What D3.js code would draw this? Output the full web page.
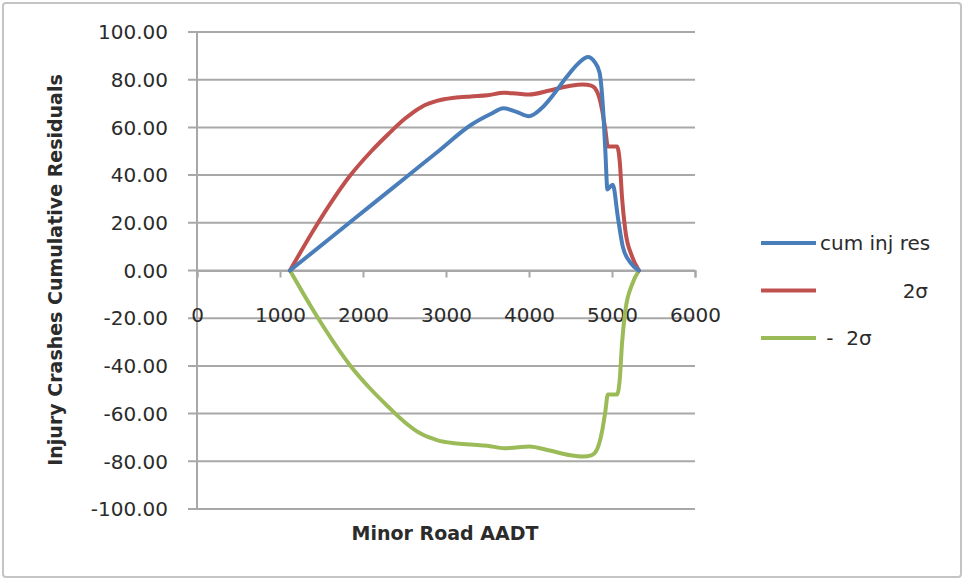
<!DOCTYPE html>
<html>
<head>
<meta charset="utf-8">
<script src="https://d3js.org/d3.v7.min.js"></script>
<style>
    body { margin: 0; background: #fff; }
    text { font-family: "DejaVu Sans", sans-serif; fill: #2b2b2b; }
</style>
</head>
<body>
<div id="viz"></div>
<script>
// series (x = minor road AADT, y = cumulative residual)
let cumX = [1120, 1600, 2100, 2500, 2900, 3300, 3550, 3690, 3850, 4000, 4150, 4300, 4450, 4600, 4710, 4790, 4850, 4890, 4920, 4945, 4975, 5010, 5070, 5130, 5220, 5325];
let cumY = [0, 13.4, 27.4, 38.6, 49.8, 61, 65.8, 68, 66.5, 64.7, 68, 74, 81, 87, 89.5, 87.5, 83, 69, 50, 34, 35, 36, 22.5, 10, 3.4, 0];

let upX = [1120, 1450, 1850, 2100, 2300, 2500, 2700, 2900, 3100, 3300, 3500, 3700, 3850, 4000, 4250, 4500, 4650, 4750, 4820, 4880, 4920, 4950, 5060, 5095, 5120, 5160, 5240, 5325];
let upY = [0, 19.5, 40, 50, 57, 63.5, 68.5, 71.2, 72.4, 73, 73.5, 74.5, 74.2, 73.8, 75.5, 77.5, 78, 77.5, 75, 67.5, 59, 52, 52, 45, 31, 17, 6, 0];

let lowX = [1120, 1450, 1850, 2100, 2300, 2500, 2700, 2900, 3100, 3300, 3500, 3700, 3850, 4000, 4250, 4500, 4650, 4750, 4820, 4880, 4920, 4950, 5060, 5095, 5120, 5160, 5240, 5325];
let lowY = [0, -19.5, -40, -50, -57, -63.5, -68.5, -71.2, -72.4, -73, -73.5, -74.5, -74.2, -73.8, -75.5, -77.5, -78, -77.5, -75, -67.5, -59, -52, -52, -45, -31, -17, -6, 0];

let seriesNames = ["cum inj res", "             2σ", " -  2σ"];
let seriesColors = ["#4a7ebb", "#c0504d", "#9bbb59"];

let xTicks = [0, 1000, 2000, 3000, 4000, 5000, 6000];
let yTicks = [-100, -80, -60, -40, -20, 0, 20, 40, 60, 80, 100];

let width = 965, height = 582;

let svg = d3.select("#viz")
    .append("svg")
    .attr("width", width)
    .attr("height", height);

// outer frame
svg.append("rect")
    .attr("x", 3).attr("y", 3)
    .attr("width", 958).attr("height", 574)
    .attr("rx", 3)
    .attr("fill", "#fff")
    .attr("stroke", "#c4c4c4")
    .attr("stroke-width", 2);

let x = d3.scaleLinear().domain([0, 6000]).range([197, 695]);
let y = d3.scaleLinear().domain([-100, 100]).range([509, 32]);

let gridColor = "#a8a8a8";

// horizontal gridlines (with the little tick sticking out left)
svg.selectAll(".grid")
    .data(yTicks)
    .enter()
    .append("line")
    .attr("x1", 188)
    .attr("x2", x(6000))
    .attr("y1", d => y(d))
    .attr("y2", d => y(d))
    .attr("stroke", gridColor)
    .attr("stroke-width", 2);

// y axis line
svg.append("line")
    .attr("x1", x(0)).attr("x2", x(0))
    .attr("y1", y(100)).attr("y2", y(-100))
    .attr("stroke", gridColor)
    .attr("stroke-width", 2);

// x axis sits on zero, ticks hang down
let xAxis = d3.axisBottom(x)
    .tickValues(xTicks)
    .tickSize(7)
    .tickFormat(d => d);

let gx = svg.append("g")
    .attr("transform", "translate(0," + y(0) + ")")
    .call(xAxis);
gx.select(".domain").attr("stroke", gridColor).attr("stroke-width", 2);
gx.selectAll(".tick line").attr("stroke", gridColor).attr("stroke-width", 2);
gx.selectAll(".tick text")
    .attr("y", 51)
    .attr("dy", "0")
    .style("font-size", "20px")
    .style("font-family", "DejaVu Sans, sans-serif")
    .attr("fill", "#2b2b2b");

// y tick labels (plain hyphen minus like excel)
svg.selectAll(".ylab")
    .data(yTicks)
    .enter()
    .append("text")
    .attr("x", 168)
    .attr("y", d => y(d))
    .attr("dy", "0.36em")
    .attr("text-anchor", "end")
    .style("font-size", "20px")
    .text(d => d.toFixed(2));

// the three curves
let line = d3.line()
    .x(d => x(d[0]))
    .y(d => y(d[1]))
    .curve(d3.curveMonotoneX);

let series = [
    d3.zip(cumX, cumY),
    d3.zip(upX, upY),
    d3.zip(lowX, lowY)
];

// draw red/green first, blue on top like excel
[2, 1, 0].forEach(i => {
    svg.append("path")
        .datum(series[i])
        .attr("d", line)
        .attr("fill", "none")
        .attr("stroke", seriesColors[i])
        .attr("stroke-width", 4)
        .attr("stroke-linejoin", "round")
        .attr("stroke-linecap", "round");
});

// axis titles
svg.append("text")
    .attr("transform", "translate(55,270) rotate(-90)")
    .attr("dy", "0.36em")
    .attr("text-anchor", "middle")
    .style("font-size", "19px")
    .style("font-weight", "bold")
    .text("Injury Crashes Cumulative Residuals");

svg.append("text")
    .attr("x", 445)
    .attr("y", 533)
    .attr("dy", "0.36em")
    .attr("text-anchor", "middle")
    .style("font-size", "19px")
    .style("font-weight", "bold")
    .text("Minor Road AADT");

// legend
let legend = svg.selectAll(".legend")
    .data(seriesNames)
    .enter()
    .append("g")
    .attr("transform", (d, i) => "translate(761," + (243 + i * 47.5) + ")");

legend.append("line")
    .attr("x1", 0).attr("x2", 55)
    .attr("stroke", (d, i) => seriesColors[i])
    .attr("stroke-width", 4);

legend.append("text")
    .attr("x", 59)
    .attr("dy", "0.36em")
    .style("font-size", "20px")
    .style("white-space", "pre")
    .text(d => d);
</script>
</body>
</html>
